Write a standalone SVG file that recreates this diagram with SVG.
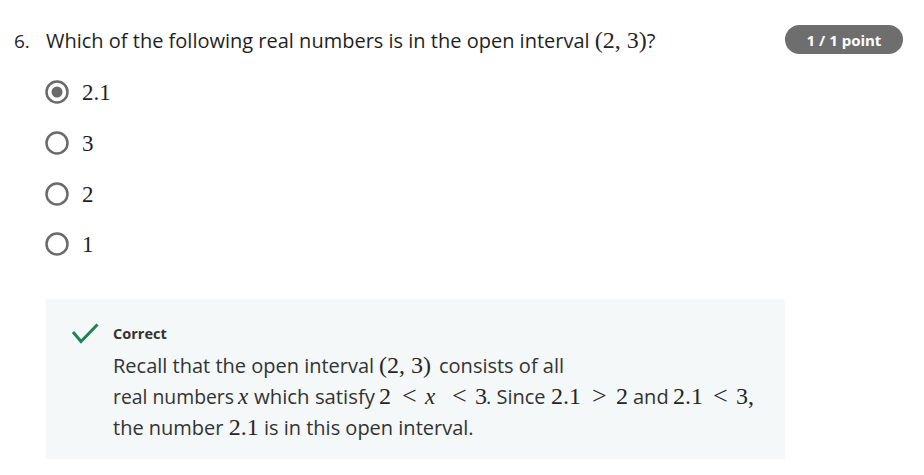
<svg xmlns="http://www.w3.org/2000/svg" width="924" height="475" viewBox="0 0 924 475">
<style>
.t{font-family:"Open Sans","Noto Sans",sans-serif;fill:#1f1f1f}
.b{font-family:"Open Sans","Noto Sans",sans-serif;font-size:20px;fill:#333333}
.m{font-family:"Liberation Serif","DejaVu Serif",serif;font-size:24px;fill:#262626}
.r{font-family:"Liberation Serif","DejaVu Serif",serif;font-size:26px;fill:#262626}
.mi{font-family:"Liberation Serif","DejaVu Serif",serif;font-style:italic;font-size:23px;fill:#262626}
.radio{fill:none;stroke:#6a6a6a;stroke-width:2.5}
.opt{font-family:"Liberation Serif","DejaVu Serif",serif;font-size:23px;fill:#1f1f1f}
</style>
<rect width="924" height="475" fill="#ffffff"/>
<g id="question">
<text class="t" x="14" y="48" font-size="19">6.</text>
<text class="t" x="46" y="48" font-size="20">Which of the following real numbers is in the open interval <tspan class="m">(2, 3)</tspan>?</text>
</g>
<g id="badge">
<rect x="785" y="25" width="118" height="29" rx="14.5" fill="#6e6e6e"/>
<text x="844" y="45.5" text-anchor="middle" font-family="Open Sans, Noto Sans, sans-serif" font-weight="bold" font-size="15" fill="#ffffff">1 / 1 point</text>
</g>
<g id="option1">
<circle class="radio" cx="57" cy="92" r="10.5"/>
<circle cx="57" cy="92" r="5.5" fill="#6a6a6a"/>
<text class="opt" x="82" y="100">2.1</text>
</g>
<g id="option2">
<circle class="radio" cx="57" cy="143" r="10.5"/>
<text class="opt" x="82" y="151">3</text>
</g>
<g id="option3">
<circle class="radio" cx="57" cy="194" r="10.5"/>
<text class="opt" x="82" y="202">2</text>
</g>
<g id="option4">
<circle class="radio" cx="57" cy="244" r="10.5"/>
<text class="opt" x="82" y="252">1</text>
</g>
<g id="feedback">
<rect x="46" y="299" width="739" height="160" fill="#f4f8f8"/>
<path d="M73 332 L81 341.5 L97.5 324.5" fill="none" stroke="#1f8354" stroke-width="3"/>
<text class="t" x="113" y="339" font-size="14.5" font-weight="bold" style="fill:#333">Correct</text>
<text class="b" x="113" y="373">Recall that the open interval</text>
<text class="m" x="379" y="373">(2, 3)</text>
<text class="b" x="439" y="373">consists of all</text>
<text class="b" x="113" y="404" textLength="121" lengthAdjust="spacingAndGlyphs">real numbers</text>
<text class="mi" x="238" y="404">x</text>
<text class="b" x="254" y="404" textLength="121" lengthAdjust="spacingAndGlyphs">which satisfy</text>
<text class="m" x="379" y="404">2</text>
<text class="r" x="402" y="404">&lt;</text>
<text class="mi" x="425" y="404">x</text>
<text class="r" x="452" y="404">&lt;</text>
<text class="m" x="475" y="404">3</text>
<text class="b" x="486" y="404">. Since</text>
<text class="m" x="551" y="404">2.1</text>
<text class="r" x="592" y="404">&gt;</text>
<text class="m" x="616" y="404">2</text>
<text class="b" x="633" y="404">and</text>
<text class="m" x="673" y="404">2.1</text>
<text class="r" x="713" y="404">&lt;</text>
<text class="m" x="736" y="404">3,</text>
<text class="b" x="113" y="435">the number <tspan class="m">2.1</tspan> is in this open interval.</text>
</g>
</svg>
